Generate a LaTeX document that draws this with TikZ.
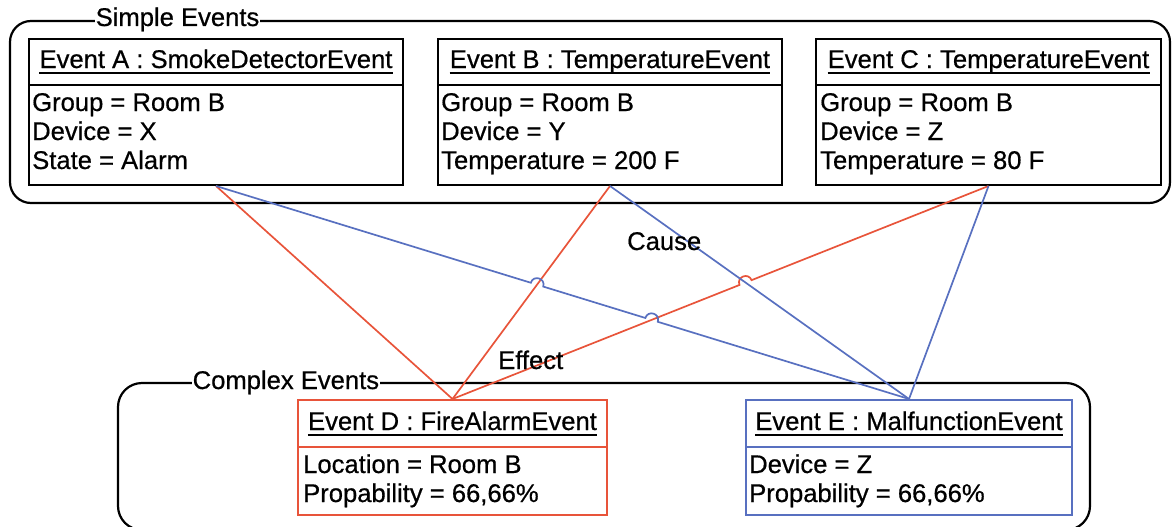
\documentclass[tikz,border=0pt]{standalone}
\usepackage{fontspec}
\setmainfont{Liberation Sans}[FakeBold=0.6]
\usetikzlibrary{calc,intersections}
\definecolor{cred}{RGB}{232,84,58}
\definecolor{cblue}{RGB}{88,112,192}
\begin{document}
\begin{tikzpicture}[x=1pt,y=-1pt,
  every node/.style={font=\fontsize{25.6}{29}\selectfont},
  frame/.style={draw=black,line width=2.2pt,rounded corners=21pt,rectangle,inner sep=0pt},
  framelabel/.style={fill=white,inner xsep=0.5pt,inner ysep=0pt,anchor=base west},
  evbox/.style={draw=#1,line width=2pt,rectangle,inner sep=0pt},
  divider/.style={draw=#1,line width=2pt},
  ttl/.style={inner sep=0pt,anchor=base},
  row/.style={inner sep=0pt,anchor=base west},
  uline/.style={line width=1.6pt},
  redl/.style={draw=cred,line width=1.7pt},
  bluel/.style={draw=cblue,line width=1.7pt},
  lbl/.style={inner sep=0pt,anchor=base west}
]
\useasboundingbox (0,0) rectangle (1172,527);

% frames
\node[frame,minimum width=1160pt,minimum height=182pt] (simple) at (590,112) {};
\node[framelabel] (simplelbl) at (95,26) {Simple Events};
\node[frame,rounded corners=24pt,minimum width=972pt,minimum height=147pt] (complex) at (604,456.5) {};
\node[framelabel] (complexlbl) at (192,389) {Complex Events};

% event boxes
\node[evbox=black,minimum width=374pt,minimum height=146pt] (A) at (216,112) {};
\node[evbox=black,minimum width=344pt,minimum height=146pt] (B) at (610,112) {};
\node[evbox=black,minimum width=345pt,minimum height=146pt] (C) at (988.5,112) {};
\node[evbox=cred,minimum width=309pt,minimum height=115pt] (D) at (452.5,457.5) {};
\node[evbox=cblue,minimum width=326pt,minimum height=115pt] (E) at (909,457.5) {};

\draw[divider=black] (A.west |- 0,85) -- (A.east |- 0,85);
\draw[divider=black] (B.west |- 0,85) -- (B.east |- 0,85);
\draw[divider=black] (C.west |- 0,85) -- (C.east |- 0,85);
\draw[divider=cred] (D.west |- 0,447) -- (D.east |- 0,447);
\draw[divider=cblue] (E.west |- 0,447) -- (E.east |- 0,447);

% titles
\node[ttl] (At) at (216,68) {Event A : SmokeDetectorEvent};
\node[ttl] (Bt) at (610,68) {Event B : TemperatureEvent};
\node[ttl] (Ct) at (988.5,68) {Event C : TemperatureEvent};
\node[ttl] (Dt) at (452.5,430) {Event D : FireAlarmEvent};
\node[ttl] (Et) at (909,430) {Event E : MalfunctionEvent};
\foreach \t in {At,Bt,Ct,Dt,Et}{
  \draw[uline] ($(\t.base west)+(0,5)$) -- ($(\t.base east)+(0,5)$);
}

% rows
\node[row] (A1) at (32,111) {Group = Room B};
\node[row] (A2) at (32,140) {Device = X};
\node[row] (A3) at (32,169) {State = Alarm};
\node[row] (B1) at (441,111) {Group = Room B};
\node[row] (B2) at (441,140) {Device = Y};
\node[row] (B3) at (441,169) {Temperature = 200 F};
\node[row] (C1) at (820,111) {Group = Room B};
\node[row] (C2) at (820,140) {Device = Z};
\node[row] (C3) at (820,169) {Temperature = 80 F};
\node[row] (D1) at (303,473) {Location = Room B};
\node[row] (D2) at (303,502) {Propability = 66,66\%};
\node[row] (E1) at (749,473) {Device = Z};
\node[row] (E2) at (749,502) {Propability = 66,66\%};

% intersections for hops
\path[name path=pAE] (A.south) -- (E.north);
\path[name path=pBD] (B.south) -- (D.north);
\path[name path=pCD] (C.south) -- (D.north);
\path[name path=pBE] (B.south) -- (E.north);
\path[name intersections={of=pAE and pBD,by=h1}];
\path[name intersections={of=pAE and pCD,by=h2}];
\path[name intersections={of=pCD and pBE,by=h3}];

\coordinate (h1a) at ($(h1)!6.5pt!(A.south)$);
\coordinate (h1b) at ($(h1)!6.5pt!(E.north)$);
\coordinate (h1c) at ($(h1a)!8.7pt!90:(h1)$);
\coordinate (h1d) at ($(h1b)!8.7pt!-90:(h1)$);
\coordinate (h2a) at ($(h2)!6.5pt!(A.south)$);
\coordinate (h2b) at ($(h2)!6.5pt!(E.north)$);
\coordinate (h2c) at ($(h2a)!8.7pt!90:(h2)$);
\coordinate (h2d) at ($(h2b)!8.7pt!-90:(h2)$);
\coordinate (h3a) at ($(h3)!6.5pt!(C.south)$);
\coordinate (h3b) at ($(h3)!6.5pt!(D.north)$);
\coordinate (h3c) at ($(h3a)!8.7pt!-90:(h3)$);
\coordinate (h3d) at ($(h3b)!8.7pt!90:(h3)$);

% red connectors (Effect)
\draw[redl] (A.south) -- (D.north);
\draw[redl] (B.south) -- (D.north);
\draw[redl] (C.south) -- (h3a) .. controls (h3c) and (h3d) .. (h3b) -- (D.north);
% blue connectors (Cause)
\draw[bluel] (A.south) -- (h1a) .. controls (h1c) and (h1d) .. (h1b) -- (h2a) .. controls (h2c) and (h2d) .. (h2b) -- (E.north);
\draw[bluel] (B.south) -- (E.north);
\draw[bluel] (C.south) -- (E.north);

% labels
\node[lbl] (cause) at (627,250) {Cause};
\node[lbl] (effect) at (498,369) {Effect};
\end{tikzpicture}
\end{document}
